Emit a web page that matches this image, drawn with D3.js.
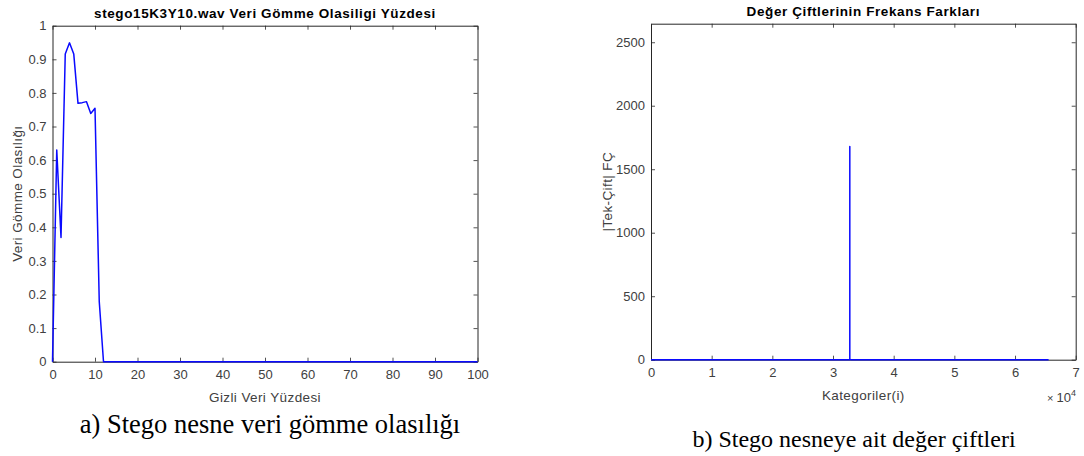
<!DOCTYPE html>
<html>
<head>
<meta charset="utf-8">
<script src="https://cdn.jsdelivr.net/npm/d3@7"></script>
<style>
  html, body { margin: 0; padding: 0; background: #fff; }
  svg { display: block; }
  .tick text { font-family: "Liberation Sans", Arial, sans-serif; font-size: 13px; fill: #404040; }
  .ttl { font-family: "Liberation Sans", Arial, sans-serif; font-size: 13.5px; font-weight: bold; fill: #000; letter-spacing: 0.6px; }
  .lbl { font-family: "Liberation Sans", Arial, sans-serif; font-size: 13.5px; fill: #404040; letter-spacing: 0.4px; }
  .cap { font-family: "Liberation Serif", "Times New Roman", serif; font-size: 24px; fill: #000; }
</style>
</head>
<body>
<svg id="chart" width="1084" height="456"></svg>
<script>
// (a) embedding probability versus hidden-data percentage
const hiddenPercent = [0, 1, 2, 3, 4, 5, 6, 7, 8, 9, 10, 11, 12, 100];
const embedProb     = [0, 0.63, 0.37, 0.916, 0.949, 0.916, 0.769, 0.771, 0.774, 0.739, 0.754, 0.179, 0, 0];
const xTicksA = [0, 10, 20, 30, 40, 50, 60, 70, 80, 90, 100];
const yTicksA = [0, 0.1, 0.2, 0.3, 0.4, 0.5, 0.6, 0.7, 0.8, 0.9, 1];

// (b) absolute odd/even frequency difference per value-pair category
const categories = [0, 32700, 32760, 32766, 32767, 32768, 32769, 32772, 32800, 32900, 65535];
const pairDiff   = [0, 0, 4, 10, 14, 1678, 16, 8, 3, 0, 0];
const xTicksB = [0, 10000, 20000, 30000, 40000, 50000, 60000, 70000];
const yTicksB = [0, 500, 1000, 1500, 2000, 2500];

const svg = d3.select("#chart");
const axisColor = "#262626";
const lineColor = "#0a0aff";

function drawPanel(opt) {
  const x = d3.scaleLinear().domain(opt.xDomain).range([opt.left, opt.right]);
  const y = d3.scaleLinear().domain(opt.yDomain).range([opt.bottom, opt.top]);
  const g = svg.append("g");

  // bottom axis with labels, ticks pointing inward
  const ax = g.append("g").attr("transform", `translate(0,${opt.bottom})`)
    .call(d3.axisBottom(x).tickValues(opt.xTicks).tickSizeInner(-4).tickSizeOuter(0).tickPadding(8)
      .tickFormat(opt.xFormat));
  // left axis
  const ay = g.append("g").attr("transform", `translate(${opt.left},0)`)
    .call(d3.axisLeft(y).tickValues(opt.yTicks).tickSizeInner(-4).tickSizeOuter(0).tickPadding(6)
      .tickFormat(opt.yFormat));
  // top and right mirror ticks
  const at = g.append("g").attr("transform", `translate(0,${opt.top})`)
    .call(d3.axisTop(x).tickValues(opt.xTicks).tickSizeInner(-4).tickSizeOuter(0).tickFormat(""));
  const ar = g.append("g").attr("transform", `translate(${opt.right},0)`)
    .call(d3.axisRight(y).tickValues(opt.yTicks).tickSizeInner(-4).tickSizeOuter(0).tickFormat(""));
  [ax, ay, at, ar].forEach(a => {
    a.select(".domain").attr("stroke", axisColor).attr("stroke-width", 1);
    a.selectAll(".tick line").attr("stroke", axisColor).attr("stroke-width", 0.8);
  });
  ax.selectAll(".tick text").attr("dy", "0.71em");

  // series
  const line = d3.line().x(d => x(d[0])).y(d => y(d[1]));
  g.append("path")
    .datum(opt.xs.map((v, i) => [v, opt.ys[i]]))
    .attr("d", line)
    .attr("fill", "none")
    .attr("stroke", lineColor)
    .attr("stroke-width", 1.5)
    .attr("stroke-linejoin", "round");

  // titles and labels
  const cx = (opt.left + opt.right) / 2;
  g.append("text").attr("class", "ttl").attr("x", cx).attr("y", opt.top - 8)
    .attr("text-anchor", "middle").text(opt.title);
  g.append("text").attr("class", "lbl").attr("x", cx).attr("y", opt.bottom + 40)
    .attr("text-anchor", "middle").text(opt.xLabel);
  g.append("text").attr("class", "lbl")
    .attr("transform", `translate(${opt.yLabelX},${(opt.top + opt.bottom) / 2}) rotate(-90)`)
    .attr("text-anchor", "middle").text(opt.yLabel);
  g.append("text").attr("class", "cap").attr("x", opt.capX).attr("y", opt.capY)
    .attr("text-anchor", "middle").style("font-size", opt.capSize + "px").text(opt.caption);
  return { x, y, g };
}

drawPanel({
  left: 52.5, right: 477.5, top: 25.7, bottom: 361.7,
  xDomain: [0, 100], yDomain: [0, 1],
  xTicks: xTicksA, yTicks: yTicksA,
  xFormat: d3.format("d"), yFormat: d => d === 0 || d === 1 ? String(d) : d3.format(".1f")(d),
  xs: hiddenPercent, ys: embedProb,
  title: "stego15K3Y10.wav Veri Gömme Olasiligi Yüzdesi",
  xLabel: "Gizli Veri Yüzdesi", yLabel: "Veri Gömme Olasılığı", yLabelX: 22,
  caption: "a) Stego nesne veri gömme olasılığı", capX: 270, capY: 433, capSize: 26.5
});

const pb = drawPanel({
  left: 651, right: 1075.7, top: 23.7, bottom: 359.7,
  xDomain: [0, 70000], yDomain: [0, 2646],
  xTicks: xTicksB, yTicks: yTicksB,
  xFormat: d => String(d / 10000), yFormat: d3.format("d"),
  xs: categories, ys: pairDiff,
  title: "Değer Çiftlerinin Frekans Farkları",
  xLabel: "Kategoriler(i)", yLabel: "|Tek-Çift| FÇ", yLabelX: 612,
  caption: "b) Stego nesneye ait değer çiftleri", capX: 854, capY: 447, capSize: 24
});

// exponent marker for the category axis
const expo = pb.g.append("text").attr("class", "lbl")
  .attr("x", 1076).attr("y", 402).attr("text-anchor", "end")
  .style("letter-spacing", "0px");
expo.append("tspan").style("font-size", "11px").text("× ");
expo.append("tspan").style("font-size", "13px").text("10");
expo.append("tspan").style("font-size", "9px").attr("dy", -6).text("4");
</script>
</body>
</html>
